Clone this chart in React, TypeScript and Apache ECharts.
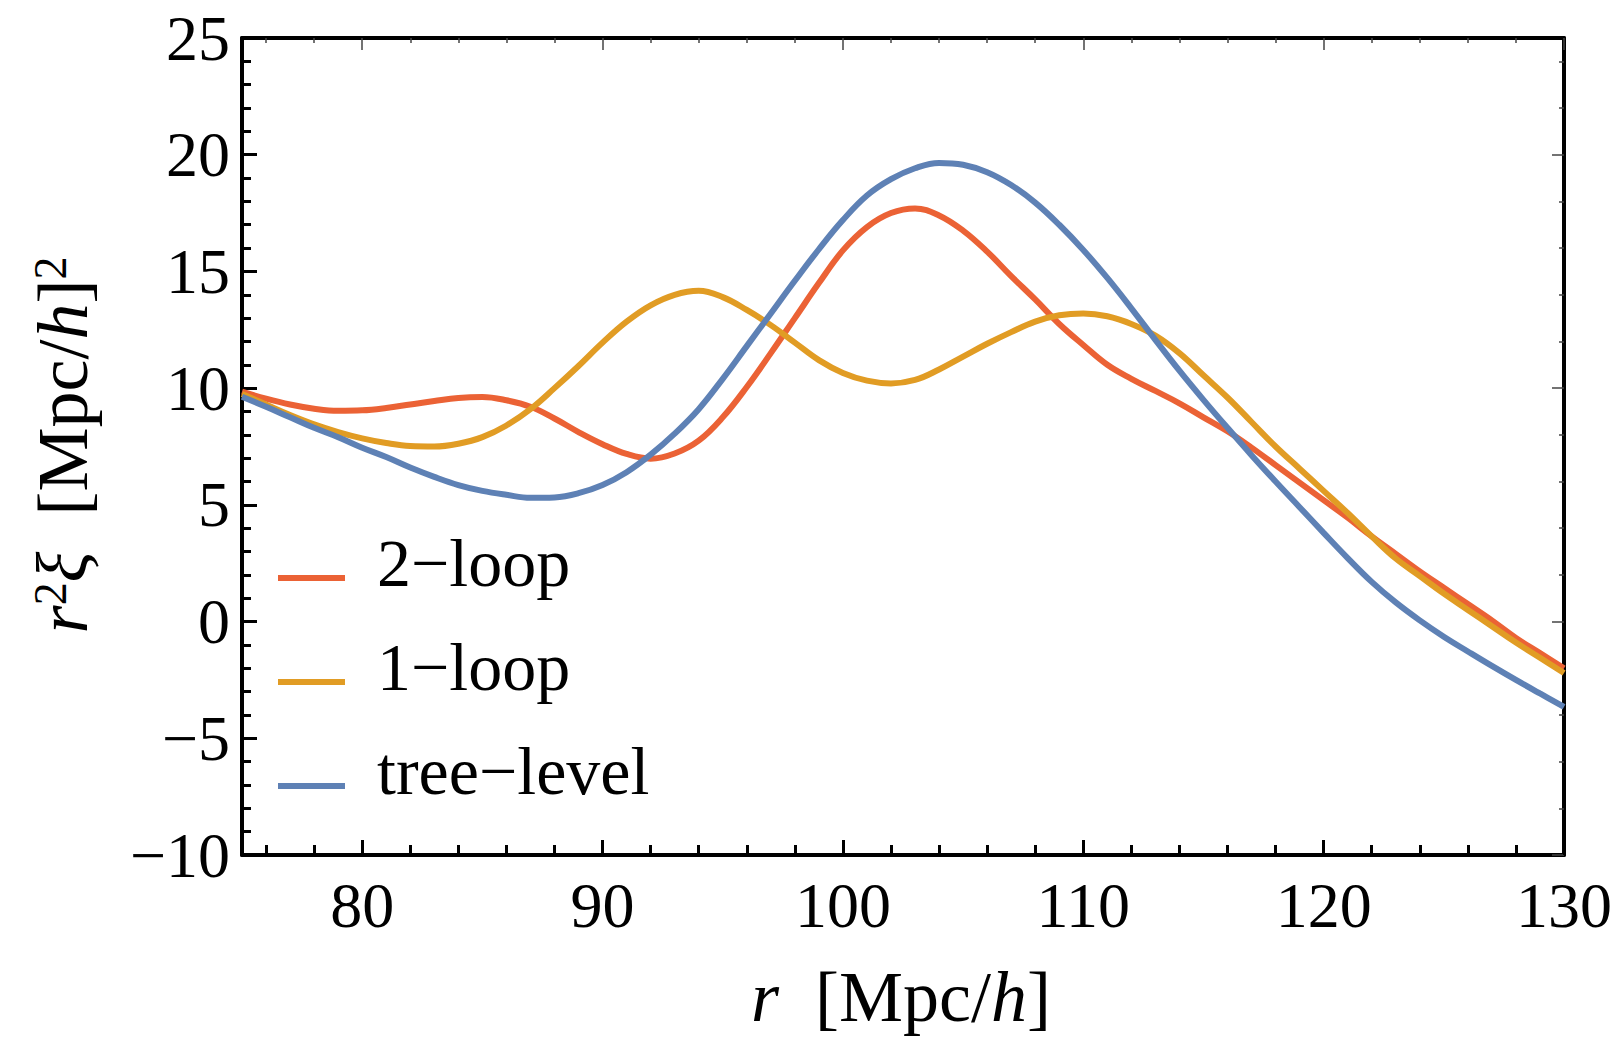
import React, { useEffect, useRef } from "react";
import * as echarts from "echarts";

const rValues = [75, 76, 77, 78, 79, 80, 81, 82, 83, 84, 85, 86, 87, 88, 89, 90, 91, 92, 93, 94, 95, 96, 97, 98, 99, 100, 101, 102, 103, 104, 105, 106, 107, 108, 109, 110, 111, 112, 113, 114, 115, 116, 117, 118, 119, 120, 121, 122, 123, 124, 125, 126, 127, 128, 129, 130];

const twoLoop = [9.85, 9.55, 9.3, 9.12, 9.03, 9.05, 9.15, 9.3, 9.45, 9.58, 9.62, 9.48, 9.2, 8.7, 8.12, 7.6, 7.18, 6.98, 7.2, 7.75, 8.75, 10.05, 11.5, 13.0, 14.5, 15.9, 16.9, 17.5, 17.7, 17.4, 16.75, 15.85, 14.8, 13.8, 12.75, 11.85, 11.0, 10.4, 9.88, 9.35, 8.75, 8.15, 7.45, 6.7, 5.95, 5.2, 4.45, 3.65, 2.9, 2.15, 1.45, 0.75, 0.05, -0.7, -1.35, -2.0];

const oneLoop = [9.75, 9.3, 8.85, 8.45, 8.12, 7.85, 7.65, 7.52, 7.5, 7.62, 7.9, 8.4, 9.1, 10.0, 10.95, 11.95, 12.85, 13.55, 14.0, 14.17, 13.9, 13.35, 12.7, 11.95, 11.2, 10.65, 10.32, 10.2, 10.35, 10.8, 11.35, 11.9, 12.4, 12.85, 13.12, 13.2, 13.08, 12.75, 12.25, 11.5, 10.55, 9.6, 8.55, 7.5, 6.55, 5.6, 4.65, 3.65, 2.7, 1.95, 1.2, 0.5, -0.2, -0.9, -1.55, -2.2];

const treeLevel = [9.63, 9.2, 8.75, 8.3, 7.9, 7.45, 7.05, 6.6, 6.2, 5.85, 5.6, 5.43, 5.3, 5.32, 5.5, 5.85, 6.4, 7.15, 8.05, 9.1, 10.4, 11.8, 13.2, 14.6, 15.95, 17.2, 18.25, 18.95, 19.42, 19.65, 19.57, 19.25, 18.7, 17.95, 17.0, 15.92, 14.72, 13.42, 12.07, 10.75, 9.5, 8.3, 7.13, 6.0, 4.9, 3.8, 2.72, 1.7, 0.82, 0.05, -0.65, -1.28, -1.9, -2.5, -3.08, -3.65];

const seriesNames = ["2\u2212loop", "1\u2212loop", "tree\u2212level"];
const seriesColors = ["#EB6235", "#E19C24", "#5E81B5"];

const xMajorTicks = [80, 90, 100, 110, 120, 130];
const xMinorTicks = [76, 78, 82, 84, 86, 88, 92, 94, 96, 98, 102, 104, 106, 108, 112, 114, 116, 118, 122, 124, 126, 128];
const yRightMajor = [-10, 0, 10, 20];
const yRightMinor = [-8, -6, -4, -2, 2, 4, 6, 8, 12, 14, 16, 18, 22, 24];

const FONT = "'Liberation Serif', 'Times New Roman', serif";

function pairs(vals: number[]) {
  return rValues.map((r, i) => [r, vals[i]]);
}

export default function App() {
  const ref = useRef<HTMLDivElement>(null);
  useEffect(() => {
    if (!ref.current) return;
    const chart = echarts.init(ref.current, null, { renderer: "svg" });
    const frame = { show: true, onZero: false, lineStyle: { color: "#000", width: 4 } };
    const noLine = { show: false, onZero: false };
    const thinTick = { color: "#444", width: 1.5 };
    const titleRich = {
      i: { fontStyle: "italic", fontFamily: FONT, fontSize: 72, fill: "#000" },
      u: { fontFamily: FONT, fontSize: 72, fill: "#000" },
      s: { fontFamily: FONT, fontSize: 46, fill: "#000", verticalAlign: "top" },
    };
    const option: any = {
      animation: false,
      backgroundColor: "#fff",
      grid: { left: 242, right: 59, top: 38, bottom: 187, containLabel: false },
      legend: {
        orient: "vertical",
        left: 273,
        top: 524,
        icon: "rect",
        itemWidth: 67,
        itemHeight: 6,
        itemGap: 6,
        data: seriesNames,
        formatter: "{a|{name}}",
        textStyle: {
          fontFamily: FONT, fontSize: 68, color: "#000",
          rich: { a: { fontFamily: FONT, fontSize: 68, color: "#000", lineHeight: 68, padding: [0, 0, 30, 27] } },
        },
      },
      xAxis: [
        {
          type: "value", min: 75, max: 130, position: "bottom",
          axisLine: frame,
          axisTick: { show: true, inside: true, length: 15, customValues: xMajorTicks, lineStyle: { color: "#000", width: 3 } },
          axisLabel: { show: true, customValues: xMajorTicks, fontFamily: FONT, fontSize: 64, color: "#000", margin: 18 },
          splitLine: { show: false },
        },
        {
          type: "value", min: 75, max: 130, position: "bottom",
          axisLine: noLine,
          axisTick: { show: true, inside: true, length: 10, customValues: xMinorTicks, lineStyle: { color: "#000", width: 3 } },
          axisLabel: { show: false },
          splitLine: { show: false },
        },
        {
          type: "value", min: 75, max: 130, position: "top",
          axisLine: frame,
          axisTick: { show: true, inside: true, length: 12, customValues: xMajorTicks, lineStyle: thinTick },
          axisLabel: { show: false },
          splitLine: { show: false },
        },
        {
          type: "value", min: 75, max: 130, position: "top",
          axisLine: noLine,
          axisTick: { show: true, inside: true, length: 5, customValues: xMinorTicks, lineStyle: thinTick },
          axisLabel: { show: false },
          splitLine: { show: false },
        },
      ],
      yAxis: [
        {
          type: "value", min: -10, max: 25, interval: 5, position: "left",
          axisLine: frame,
          axisTick: { show: true, inside: true, length: 15, lineStyle: { color: "#000", width: 3 } },
          minorTick: { show: true, splitNumber: 5, length: 9, lineStyle: { color: "#000", width: 3 } },
          axisLabel: {
            fontFamily: FONT, fontSize: 64, color: "#000", margin: 12,
            formatter: (v: number) => (v < 0 ? "\u2212" + Math.abs(v) : String(v)),
          },
          splitLine: { show: false },
        },
        {
          type: "value", min: -10, max: 25, position: "right",
          axisLine: frame,
          axisTick: { show: true, inside: true, length: 12, customValues: yRightMajor, lineStyle: thinTick },
          axisLabel: { show: false },
          splitLine: { show: false },
        },
        {
          type: "value", min: -10, max: 25, position: "right",
          axisLine: noLine,
          axisTick: { show: true, inside: true, length: 5, customValues: yRightMinor, lineStyle: thinTick },
          axisLabel: { show: false },
          splitLine: { show: false },
        },
      ],
      series: [twoLoop, oneLoop, treeLevel].map((vals, i) => ({
        name: seriesNames[i],
        type: "line",
        xAxisIndex: 0,
        yAxisIndex: 0,
        data: pairs(vals),
        showSymbol: false,
        smooth: 0.4,
        z: 2 + i,
        color: seriesColors[i],
        lineStyle: { color: seriesColors[i], width: 6 },
      })),
      graphic: [
        {
          type: "text",
          x: 63,
          y: 445,
          rotation: Math.PI / 2,
          style: {
            text: "{i|r}{s|2}{i|\u03BE}{u|  [Mpc/}{i|h}{u|]}{s|2}",
            rich: titleRich,
            fontFamily: FONT,
            fontSize: 72,
            fill: "#000",
            align: "center",
            verticalAlign: "middle",
          },
        },
        {
          type: "text",
          x: 901,
          y: 997,
          style: {
            text: "{i|r}{u|  [Mpc/}{i|h}{u|]}",
            rich: titleRich,
            fontFamily: FONT,
            fontSize: 72,
            fill: "#000",
            align: "center",
            verticalAlign: "middle",
          },
        },
      ],
    };
    chart.setOption(option);
    return () => chart.dispose();
  }, []);
  return (
    <div
      ref={ref}
      style={{ position: "absolute", left: 0, top: 0, width: 1623, height: 1042, background: "#fff" }}
    />
  );
}
